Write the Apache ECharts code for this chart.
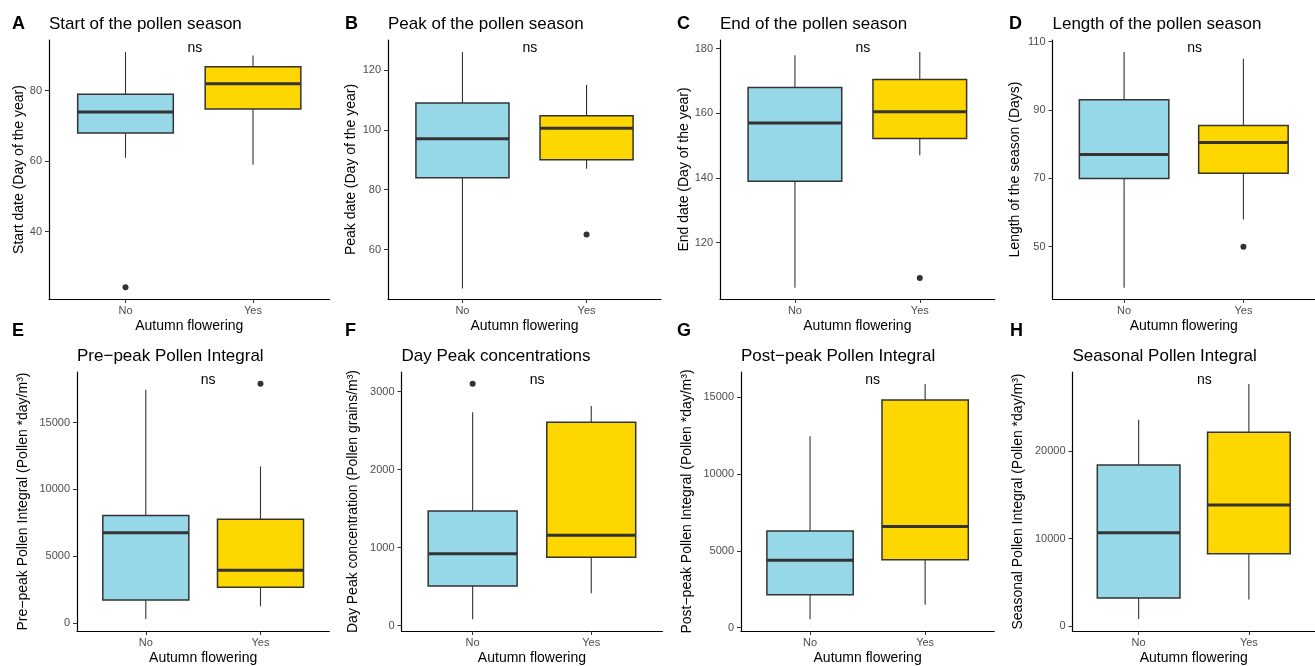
<!DOCTYPE html>
<html>
<head>
<meta charset="utf-8">
<script src="https://cdn.jsdelivr.net/npm/echarts@6/dist/echarts.min.js"></script>
<style>html,body{margin:0;padding:0;background:#fff;}#c{width:1315px;height:666px;}</style>
</head>
<body>
<div id="c"></div>
<script>
// ---------------- data ----------------
const categories = ['No', 'Yes'];
const panelLetters = ['A', 'B', 'C', 'D', 'E', 'F', 'G', 'H'];
const panelTitles = [
  'Start of the pollen season', 'Peak of the pollen season', 'End of the pollen season', 'Length of the pollen season',
  'Pre\u2212peak Pollen Integral', 'Day Peak concentrations', 'Post\u2212peak Pollen Integral', 'Seasonal Pollen Integral'
];
const yAxisTitles = [
  'Start date (Day of the year)', 'Peak date (Day of the year)', 'End date (Day of the year)', 'Length of the season (Days)',
  'Pre\u2212peak Pollen Integral (Pollen *day/m\u00B3)', 'Day Peak concentration (Pollen grains/m\u00B3)',
  'Post\u2212peak Pollen Integral (Pollen *day/m\u00B3)', 'Seasonal Pollen Integral (Pollen *day/m\u00B3)'
];
const xAxisTitle = 'Autumn flowering';
const sigLabels = ['ns', 'ns', 'ns', 'ns', 'ns', 'ns', 'ns', 'ns'];

// five-number summaries per group: [lower whisker, Q1, median, Q3, upper whisker] for No, Yes
const startSummary  = [[61, 68, 74, 79, 91], [59, 74.8, 82, 86.8, 90]];
const peakSummary   = [[47, 84, 97, 109, 126], [87, 90, 100.5, 104.7, 115]];
const endSummary    = [[106, 139, 157, 168, 178], [147, 152.2, 160.5, 170.5, 179]];
const lengthSummary = [[38, 70, 77, 93, 107], [58, 71.5, 80.5, 85.5, 105]];
const prePeakSummary  = [[300, 1720, 6750, 8040, 17450], [1250, 2670, 3940, 7765, 11720]];
const dayPeakSummary  = [[82, 508, 923, 1470, 2735], [415, 877, 1159, 2607, 2815]];
const postPeakSummary = [[540, 2145, 4395, 6300, 12470], [1495, 4415, 6580, 14825, 15865]];
const seasonalSummary = [[832, 3227, 10684, 18404, 23580], [3044, 8290, 13843, 22132, 27640]];

// outliers: [group, value]
const startOutliers  = [['No', 24.2]];
const peakOutliers   = [['Yes', 65]];
const endOutliers    = [['Yes', 109]];
const lengthOutliers = [['Yes', 50]];
const prePeakOutliers  = [['Yes', 17900]];
const dayPeakOutliers  = [['No', 3100]];
const postPeakOutliers = [];
const seasonalOutliers = [];

// y-axis tick labels and ranges
const startTicks  = [40, 60, 80];
const peakTicks   = [60, 80, 100, 120];
const endTicks    = [120, 140, 160, 180];
const lengthTicks = [50, 70, 90, 110];
const prePeakTicks  = [0, 5000, 10000, 15000];
const dayPeakTicks  = [0, 1000, 2000, 3000];
const postPeakTicks = [0, 5000, 10000, 15000];
const seasonalTicks = [0, 10000, 20000];
const yRanges = [[20.9, 94.4], [43.5, 130], [102.5, 182.7], [34.7, 110.5],
                 [-600, 18785], [-69, 3252], [-220, 16650], [-540, 29020]];

// ---------------- layout & style ----------------
const summaries = [startSummary, peakSummary, endSummary, lengthSummary, prePeakSummary, dayPeakSummary, postPeakSummary, seasonalSummary];
const outliers = [startOutliers, peakOutliers, endOutliers, lengthOutliers, prePeakOutliers, dayPeakOutliers, postPeakOutliers, seasonalOutliers];
const ticks = [startTicks, peakTicks, endTicks, lengthTicks, prePeakTicks, dayPeakTicks, postPeakTicks, seasonalTicks];

const gridX = [[49, 329.5], [388, 661], [720, 994.7], [1052.5, 1326], [77, 329.3], [401.5, 662.4], [741, 994.2], [1072.5, 1326.3]];
const rowTop = [40, 372];
const rowHeight = [259, 260];
const yNameGap = [23, 30, 29, 30, 47, 41, 47, 47];
const letterX = [12, 345, 677, 1009, 12, 345, 677, 1010];
const letterY = [24.5, 331];
const titleY = [24, 356];
const boxColors = ['#96D7E8', '#FFD700'];
const FONT = '"Liberation Sans", Arial, Helvetica, sans-serif';

function renderBox(params, api) {
  const xi = api.value(0);
  const lo = api.coord([xi, api.value(1)]);
  const q1 = api.coord([xi, api.value(2)]);
  const md = api.coord([xi, api.value(3)]);
  const q3 = api.coord([xi, api.value(4)]);
  const hi = api.coord([xi, api.value(5)]);
  const hw = api.size([0.75, 0])[0] / 2;
  const cx = md[0];
  const fill = boxColors[Math.round(xi) - 1];
  return {
    type: 'group',
    children: [
      { type: 'line', shape: { x1: cx, y1: hi[1], x2: cx, y2: q3[1] }, style: { stroke: '#333333', lineWidth: 1.1 } },
      { type: 'line', shape: { x1: cx, y1: q1[1], x2: cx, y2: lo[1] }, style: { stroke: '#333333', lineWidth: 1.1 } },
      { type: 'rect', shape: { x: cx - hw, y: q3[1], width: 2 * hw, height: q1[1] - q3[1] },
        style: { fill: fill, stroke: '#333333', lineWidth: 1.5 } },
      { type: 'line', shape: { x1: cx - hw, y1: md[1], x2: cx + hw, y2: md[1] }, style: { stroke: '#333333', lineWidth: 3 } }
    ]
  };
}

const grid = [], xAxis = [], yAxis = [], series = [], graphics = [];
for (let i = 0; i < 8; i++) {
  const row = i < 4 ? 0 : 1;
  const left = gridX[i][0], right = gridX[i][1];
  const width = right - left;
  grid.push({ left: left, top: rowTop[row], width: width, height: rowHeight[row], containLabel: false });
  xAxis.push({
    type: 'value', gridIndex: i, min: 0.4, max: 2.6,
    name: xAxisTitle, nameLocation: 'middle', nameGap: 20,
    nameTextStyle: { fontSize: 14, color: '#000', fontFamily: FONT },
    axisLine: { show: true, onZero: false, lineStyle: { color: '#000', width: 1.2 } },
    axisTick: { show: true, customValues: [1, 2], length: 4, lineStyle: { color: '#333', width: 1 } },
    axisLabel: { customValues: [1, 2], formatter: v => categories[Math.round(v) - 1], color: '#4d4d4d', fontSize: 11, margin: 6, fontFamily: FONT },
    splitLine: { show: false }
  });
  yAxis.push({
    type: 'value', gridIndex: i, min: yRanges[i][0], max: yRanges[i][1],
    name: yAxisTitles[i], nameLocation: 'middle', nameRotate: 90, nameGap: yNameGap[i],
    nameTextStyle: { fontSize: 14, color: '#000', fontFamily: FONT },
    axisLine: { show: true, onZero: false, lineStyle: { color: '#000', width: 1.2 } },
    axisTick: { show: true, customValues: ticks[i], length: 4, lineStyle: { color: '#333', width: 1 } },
    axisLabel: { customValues: ticks[i], formatter: v => String(Math.round(v)), color: '#4d4d4d', fontSize: 11, margin: 7, fontFamily: FONT },
    splitLine: { show: false }
  });
  series.push({
    type: 'custom', xAxisIndex: i, yAxisIndex: i,
    renderItem: renderBox,
    encode: { x: 0, y: [1, 2, 3, 4, 5] },
    data: summaries[i].map((s, k) => [k + 1].concat(s)),
    clip: false, z: 2
  });
  series.push({
    type: 'scatter', xAxisIndex: i, yAxisIndex: i,
    symbol: 'circle', symbolSize: 6,
    itemStyle: { color: '#333333', opacity: 1 },
    data: outliers[i].map(o => [categories.indexOf(o[0]) + 1, o[1]]),
    z: 3
  });
  graphics.push({
    type: 'text', x: letterX[i], y: letterY[row],
    style: { text: panelLetters[i], fontSize: 18, fontWeight: 'bold', fontFamily: FONT, fill: '#000',
      align: 'left', verticalAlign: 'middle', textAlign: 'left', textVerticalAlign: 'middle' }
  });
  graphics.push({
    type: 'text', x: left, y: titleY[row],
    style: { text: panelTitles[i], fontSize: 17, fontFamily: FONT, fill: '#000',
      align: 'left', verticalAlign: 'middle', textAlign: 'left', textVerticalAlign: 'middle' }
  });
  graphics.push({
    type: 'text', x: left + 0.52 * width, y: rowTop[row] + 8,
    style: { text: sigLabels[i], fontSize: 14, fontFamily: FONT, fill: '#000',
      align: 'center', verticalAlign: 'middle', textAlign: 'center', textVerticalAlign: 'middle' }
  });
}

const chart = echarts.init(document.getElementById('c'), null, { renderer: 'canvas' });
chart.setOption({
  animation: false,
  backgroundColor: '#ffffff',
  textStyle: { fontFamily: FONT },
  grid: grid, xAxis: xAxis, yAxis: yAxis, series: series,
  graphic: { elements: graphics }
});
</script>
</body>
</html>
